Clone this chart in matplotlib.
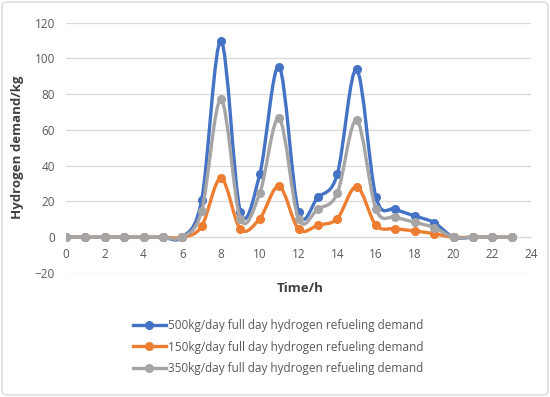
import numpy as np
import matplotlib
matplotlib.use("Agg")
import matplotlib.pyplot as plt
from matplotlib.path import Path
from matplotlib.patches import PathPatch, FancyBboxPatch
from matplotlib.lines import Line2D

hours = list(range(24))
demand_500 = [0, 0, 0, 0, 0, 0, 0, 20.8, 109.8, 14.3, 35.2, 95.3, 14.3, 22.3, 35.2, 93.9,
              22.3, 15.8, 11.9, 8.2, 0, 0, 0, 0]
demand_150 = [0, 0, 0, 0, 0, 0, 0, 6.1, 33.0, 4.5, 10.4, 28.5, 4.5, 6.7, 10.4, 28.3,
              6.7, 4.8, 3.5, 2.0, 0, 0, 0, 0]
demand_350 = [0, 0, 0, 0, 0, 0, 0, 14.7, 77.1, 10.4, 24.6, 66.5, 10.4, 15.8, 24.6, 65.5,
              15.6, 11.3, 8.4, 5.4, 0, 0, 0, 0]
labels = ["500kg/day full day hydrogen refueling demand",
          "150kg/day full day hydrogen refueling demand",
          "350kg/day full day hydrogen refueling demand"]
colors = ["#4472C4", "#ED7D31", "#A5A5A5"]

plt.rcParams['font.family'] = ['Open Sans', 'DejaVu Sans']

fig = plt.figure(figsize=(5.5, 3.97), dpi=100)
W, H = 550, 397
ax = fig.add_axes([66/W, 1-273/H, (531-66)/W, (273-22.7)/H])

def smooth_path(xs, ys):
    pts = np.column_stack([xs, ys]).astype(float)
    n = len(pts)
    verts = [pts[0]]
    codes = [Path.MOVETO]
    for i in range(n-1):
        p0 = pts[i-1] if i > 0 else pts[i]
        p1 = pts[i]
        p2 = pts[i+1]
        p3 = pts[i+2] if i+2 < n else pts[i+1]
        c1 = p1 + (p2 - p0)/6.0
        c2 = p2 - (p3 - p1)/6.0
        verts += [c1, c2, p2]
        codes += [Path.CURVE4]*3
    return Path(verts, codes)

for vals, c, z in zip([demand_500, demand_150, demand_350], colors, [3, 4, 5]):
    patch = PathPatch(smooth_path(hours, vals), facecolor='none', edgecolor=c,
                      lw=2.4, zorder=z, capstyle='round', joinstyle='round')
    ax.add_patch(patch)
    ax.plot(hours, vals, linestyle='none', marker='o', markersize=5.5, color=c, zorder=z)

ax.set_xlim(0, 24)
ax.set_ylim(-20, 120)
ax.set_xticks(range(0, 25, 2))
ax.set_yticks(range(-20, 121, 20))
ax.grid(axis='y', color='#D9D9D9', lw=0.9, zorder=0)
for s in ['top', 'right', 'left']:
    ax.spines[s].set_visible(False)
ax.spines['bottom'].set_position(('data', 0))
ax.spines['bottom'].set_color('#D9D9D9')
ax.spines['bottom'].set_zorder(1)
ax.tick_params(axis='both', length=0, labelsize=8.5, labelcolor='#595959')
ax.tick_params(axis='x', pad=8)
ax.tick_params(axis='y', pad=8)

fig.text(18/W, 1-147/H, "Hydrogen demand/kg", rotation=90, ha='center', va='center',
         fontsize=9.5, fontweight='bold', color='#404040')
fig.text(300/W, 1-288/H, "Time/h", ha='center', va='center',
         fontsize=9.5, fontweight='bold', color='#404040')

handles = [Line2D([], [], color=c, lw=2.4, marker='o', markersize=5.5) for c in colors]
fig.legend(handles, labels, loc='center', bbox_to_anchor=(278/W, 1-347/H), frameon=False,
           fontsize=8.5, labelcolor='#595959', handlelength=2.8, handletextpad=0.2,
           labelspacing=0.75)

border = FancyBboxPatch((2/W, 2/H), 1-4/W, 1-4/H, boxstyle="round,pad=0,rounding_size=0.01",
                        transform=fig.transFigure, facecolor='none', edgecolor='#D9D9D9', lw=1)
fig.patches.append(border)

fig.savefig("out.png", dpi=100)
